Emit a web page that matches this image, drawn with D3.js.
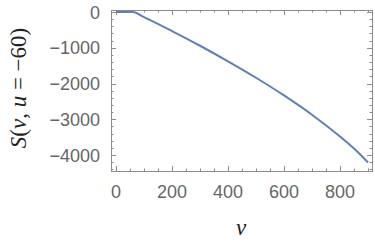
<!DOCTYPE html>
<html>
<head>
<meta charset="utf-8">
<script src="https://cdn.jsdelivr.net/npm/d3@7"></script>
<style>
  body { margin: 0; background: #fff; }
  .tick-label { font-family: "Liberation Sans", Arial, sans-serif; font-size: 18px; fill: #666; }
  .math { font-family: "Liberation Serif", "Times New Roman", serif; font-size: 23px; fill: #222; }
</style>
</head>
<body>
<script>
// values
const vValues = [0, 60, 100, 200, 300, 400, 500, 600, 700, 800, 850, 900];
const sValues = [0, 0, -144, -534, -944, -1379, -1839, -2334, -2874, -3484, -3820, -4210];
const xTicks = [0, 200, 400, 600, 800];
const yTicks = [0, -1000, -2000, -3000, -4000];

const W = 375, H = 249;
// frame box
const frame = { left: 111, right: 372, top: 10, bottom: 171 };

const x = d3.scaleLinear().domain([0, 800]).range([116, 340]);
const y = d3.scaleLinear().domain([0, -4000]).range([12, 155]);

const svg = d3.select("body").append("svg")
  .attr("width", W).attr("height", H);

const frameColor = "#8c8c8c";

// frame
svg.append("rect")
  .attr("x", frame.left + 0.5).attr("y", frame.top + 0.5)
  .attr("width", frame.right - frame.left)
  .attr("height", frame.bottom - frame.top)
  .attr("fill", "none").attr("stroke", frameColor).attr("stroke-width", 1);

// x ticks (bottom and top), major every 200, minor every 50
const xMinor = d3.range(-50, 951, 50).filter(v => x(v) > frame.left && x(v) < frame.right);
xMinor.forEach(v => {
  const major = v % 200 === 0;
  const len = major ? 5 : 2.5;
  const px = Math.round(x(v)) + 0.5;
  svg.append("line").attr("x1", px).attr("x2", px)
    .attr("y1", frame.bottom).attr("y2", frame.bottom - len)
    .attr("stroke", frameColor);
  svg.append("line").attr("x1", px).attr("x2", px)
    .attr("y1", frame.top).attr("y2", frame.top + len)
    .attr("stroke", frameColor);
});

// y ticks (left and right), major every 1000, minor every 200
const yMinor = d3.range(-4400, 101, 200).filter(v => y(v) > frame.top && y(v) < frame.bottom);
yMinor.forEach(v => {
  const major = v % 1000 === 0;
  const len = major ? 5 : 2.5;
  const py = Math.round(y(v)) + 0.5;
  svg.append("line").attr("y1", py).attr("y2", py)
    .attr("x1", frame.left).attr("x2", frame.left + len)
    .attr("stroke", frameColor);
  svg.append("line").attr("y1", py).attr("y2", py)
    .attr("x1", frame.right).attr("x2", frame.right - len)
    .attr("stroke", frameColor);
});

// tick labels
svg.selectAll(".xl").data(xTicks).enter().append("text")
  .attr("class", "tick-label")
  .attr("x", d => x(d)).attr("y", 198)
  .attr("text-anchor", "middle")
  .text(d => d);

svg.selectAll(".yl").data(yTicks).enter().append("text")
  .attr("class", "tick-label")
  .attr("x", 100).attr("y", d => y(d) + 6.5)
  .attr("text-anchor", "end")
  .text(d => d < 0 ? "\u2212" + Math.abs(d) : d);

// data line
const pts = vValues.map((v, i) => ({ v: v, s: sValues[i] }));
svg.append("path").datum(pts)
  .attr("fill", "none")
  .attr("stroke", "#5e81b5")
  .attr("stroke-width", 2)
  .attr("d", d3.line().x(d => x(d.v)).y(d => y(d.s)).curve(d3.curveMonotoneX));

// axis labels
const xl = svg.append("text").attr("class", "math")
  .attr("x", 241).attr("y", 235).attr("text-anchor", "middle");
xl.append("tspan").attr("font-style", "italic").text("v");

const yl = svg.append("text").attr("class", "math")
  .attr("transform", "translate(26,88) rotate(-90)")
  .attr("text-anchor", "middle");
yl.append("tspan").attr("font-style", "italic").text("S");
yl.append("tspan").text("(");
yl.append("tspan").attr("font-style", "italic").text("v");
yl.append("tspan").text(", ");
yl.append("tspan").attr("font-style", "italic").text("u");
yl.append("tspan").text(" = \u221260)");
</script>
</body>
</html>
